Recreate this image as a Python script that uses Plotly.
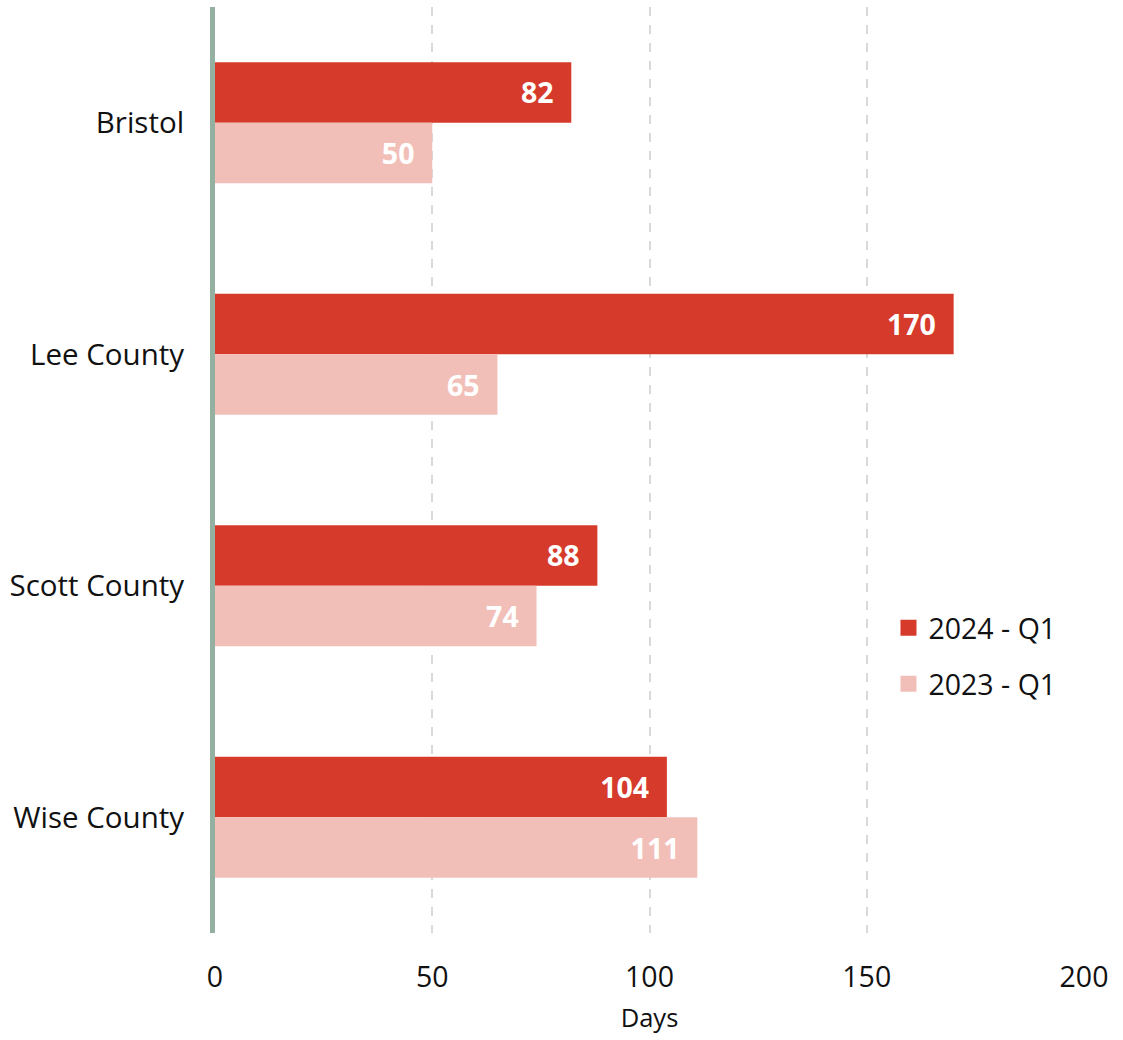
import plotly.graph_objects as go

categories = ["Bristol", "Lee County", "Scott County", "Wise County"]
series_2024 = [82, 170, 88, 104]
series_2023 = [50, 65, 74, 111]
x_ticks = [0, 50, 100, 150, 200]

FONT = "Open Sans, Noto Sans, sans-serif"
C24 = "#d63a2a"
C23 = "#f2bfb8"
PAD = "\u00a0\u00a0"

fig = go.Figure()
for name, vals, col in [("2024 - Q1", series_2024, C24), ("2023 - Q1", series_2023, C23)]:
    fig.add_trace(go.Bar(
        y=categories, x=vals, orientation="h", name=name, showlegend=False,
        marker=dict(color=col, line=dict(width=0)),
        text=[f"{v}{PAD}" for v in vals], textposition="inside", insidetextanchor="end",
        textfont=dict(color="white", size=28.5, family=FONT, weight="bold"),
        hoverinfo="x+y",
    ))
for i, (name, col) in enumerate([("2024 - Q1", C24), ("2023 - Q1", C23)]):
    fig.add_trace(go.Scatter(
        x=[None], y=[None], mode="markers", name=name, legendgroup=f"g{i}",
        marker=dict(symbol="square", size=17, color=col),
    ))

fig.update_layout(
    width=1123, height=1040,
    margin=dict(l=215, r=39, t=7, b=107),
    paper_bgcolor="white", plot_bgcolor="white",
    barmode="group", bargap=0.477, bargroupgap=0,
    font=dict(family=FONT, color="#111111"),
    uniformtext=dict(mode="show", minsize=10),
    legend=dict(x=0.775, y=0.299, xanchor="left", yanchor="middle",
                font=dict(size=28.5, family=FONT), traceorder="grouped",
                tracegroupgap=16, bgcolor="rgba(0,0,0,0)"),
    xaxis=dict(range=[0, 200], tickvals=x_ticks, showgrid=True,
               gridcolor="#d9d9d9", griddash="dash", gridwidth=1.5,
               zeroline=False, showline=False, ticks="",
               tickfont=dict(size=28.5, family=FONT, color="#111111"),
               ticklabelstandoff=24,
               title=dict(text="Days", font=dict(size=25.5, family=FONT), standoff=15)),
    yaxis=dict(autorange="reversed", showgrid=False, zeroline=False,
               showline=True, linecolor="#94b0a0", linewidth=5,
               ticks="", ticklabelstandoff=20,
               tickfont=dict(size=29.5, family=FONT, color="#111111")),
)

fig.write_html("out.html")
